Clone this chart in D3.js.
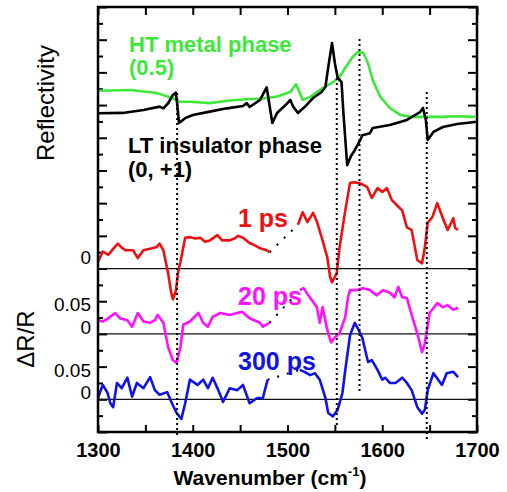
<!DOCTYPE html>
<meta charset="utf-8">
<style>
body { margin: 0; background: #fff; }
svg { display: block; }
.tick line { stroke: #000; stroke-width: 2px; }
.txt { font-family: "Liberation Sans", Arial, sans-serif; }
</style>
<body>
<div id="chart"></div>
<script src="https://d3js.org/d3.v7.min.js"></script>
<script>

// reflectivity traces (arb. units, same vertical axis as the stacked dR/R traces)
var htMetal = [[1300,0.472],[1334,0.473],[1362,0.4685],[1378,0.461],[1386,0.455],[1397,0.455],[1418,0.453],
  [1439,0.457],[1457,0.459],[1474,0.460],[1489,0.463],[1503,0.470],[1509,0.482],[1516,0.458],[1524,0.4625],
  [1537,0.476],[1548,0.485],[1555,0.493],[1561,0.507],[1569,0.524],[1574,0.531],[1580,0.530],[1585,0.514],
  [1590,0.488],[1598,0.4625],[1608,0.4455],[1619,0.435],[1629,0.432],[1643,0.432],[1661,0.432],[1679,0.433],[1698,0.432]];

var ltInsulator = [[1300,0.4375],[1326,0.438],[1348,0.4425],[1365,0.4476],[1369,0.445],[1374,0.4528],[1379,0.4654],
  [1382,0.469],[1383.5,0.453],[1385.5,0.4226],[1392,0.430],[1400,0.4349],[1418,0.440],[1436,0.445],[1453,0.4486],
  [1457,0.453],[1460,0.447],[1471,0.4578],[1478,0.4772],[1484,0.4226],[1489,0.4379],[1500,0.453],[1503,0.4578],
  [1506,0.4476],[1511,0.438],[1518,0.447],[1527,0.4608],[1536,0.470],[1540,0.4777],[1543,0.508],[1547,0.545],
  [1550,0.514],[1553,0.4914],[1557,0.4853],[1559,0.438],[1563,0.358],[1567,0.372],[1571,0.381],[1577,0.397],
  [1579,0.404],[1587,0.407],[1590,0.415],[1608,0.4196],[1626,0.4272],[1640,0.4394],[1643,0.4456],[1646,0.4272],
  [1648,0.3966],[1654,0.4089],[1664,0.4165],[1679,0.4211],[1698,0.4242]];

// dR/R traces, each measured in two windows (gap bridged by a dotted line)
var ps1Low = [[1300,0.010],[1305,0.026],[1311,0.021],[1316,0.030],[1321,0.038],[1325,0.032],[1329,0.028],[1337,0.028],
  [1342,0.016],[1348,0.028],[1357,0.031],[1362,0.033],[1365,0.038],[1369,0.028],[1374,-0.007],[1377,-0.035],
  [1379,-0.047],[1382,-0.035],[1385,-0.002],[1387,0.010],[1392,0.047],[1397,0.048],[1403,0.046],[1408,0.047],
  [1413,0.041],[1418,0.043],[1426,0.051],[1431,0.043],[1439,0.043],[1444,0.046],[1448,0.050],[1453,0.047],
  [1460,0.039],[1466,0.035],[1471,0.031],[1478,0.028],[1481,0.025]];
var ps1High = [[1511,0.067],[1516,0.086],[1521,0.071],[1527,0.085],[1531,0.072],[1537,0.043],[1542,0.017],
  [1545,-0.013],[1547,-0.021],[1552,-0.007],[1555,0.033],[1561,0.089],[1566,0.131],[1571,0.132],[1577,0.130],
  [1584,0.125],[1589,0.108],[1595,0.123],[1600,0.117],[1605,0.123],[1610,0.105],[1616,0.096],[1621,0.089],
  [1626,0.063],[1631,0.059],[1637,0.013],[1642,0.008],[1645,0.033],[1648,0.070],[1653,0.079],[1658,0.100],
  [1664,0.077],[1669,0.059],[1675,0.077],[1677,0.062],[1680,0.059]];

var ps20Low = [[1300,0.021],[1305,0.019],[1310,0.023],[1318,0.032],[1323,0.024],[1331,0.021],[1336,0.011],
  [1342,0.032],[1348,0.019],[1355,0.017],[1360,0.021],[1363,0.029],[1369,0.017],[1374,-0.020],[1379,-0.040],
  [1383,-0.0445],[1387,-0.020],[1390,0.014],[1397,0.019],[1406,0.032],[1411,0.017],[1416,0.011],[1421,0.026],
  [1429,0.032],[1439,0.029],[1452,0.034],[1460,0.024],[1471,0.017],[1474,0.011],[1481,0.017]];
var ps20High = [[1513,0.067],[1517,0.070],[1522,0.059],[1527,0.049],[1531,0.041],[1534,0.017],[1537,0.041],
  [1542,0.006],[1546,-0.013],[1550,-0.005],[1555,0.001],[1561,0.026],[1564,0.057],[1566,0.067],[1573,0.067],
  [1580,0.070],[1587,0.067],[1594,0.059],[1601,0.067],[1608,0.063],[1613,0.056],[1617,0.072],[1621,0.056],
  [1626,0.055],[1631,0.029],[1637,0.001],[1642,-0.028],[1645,-0.014],[1650,0.032],[1658,0.047],[1664,0.041],
  [1669,0.044],[1675,0.037],[1680,0.040]];

var ps300Low = [[1300,0.002],[1305,0.022],[1310,0.010],[1313,-0.006],[1316,-0.012],[1320,0.025],[1325,0.017],
  [1331,0.033],[1336,0.004],[1341,0.025],[1348,0.017],[1355,0.034],[1360,0.014],[1365,0.007],[1373,0.011],
  [1378,-0.006],[1383,-0.021],[1388,-0.030],[1392,-0.006],[1397,0.030],[1405,0.022],[1411,0.030],[1416,0.017],
  [1421,0.033],[1427,0.014],[1432,-0.004],[1439,0.017],[1447,0.014],[1453,0.022],[1460,-0.006],[1468,0.002],
  [1474,0.002],[1479,0.030]];
var ps300High = [[1513,0.045],[1518,0.042],[1524,0.037],[1529,0.040],[1534,0.030],[1540,0.002],[1543,-0.021],
  [1548,-0.026],[1553,-0.016],[1558,0.010],[1561,0.045],[1566,0.098],[1571,0.117],[1574,0.109],[1579,0.094],
  [1582,0.075],[1585,0.057],[1589,0.060],[1595,0.045],[1600,0.030],[1603,0.033],[1608,0.025],[1614,0.025],
  [1621,0.033],[1626,0.025],[1631,0.014],[1637,-0.012],[1642,-0.022],[1645,-0.016],[1648,0.014],[1654,0.040],
  [1659,0.030],[1663,0.022],[1668,0.040],[1675,0.042],[1680,0.034]];

// vertical offsets of the stacked dR/R traces
var delays = ["1 ps", "20 ps", "300 ps"];
var offsets = [0.2, 0.1, 0];

// dotted guide lines: wavenumber, top and bottom of each line
var guideWn = [1383.5, 1552, 1576, 1647];
var guideTop = [0.4685, 0.4914, 0.551, 0.470];
var guideBottom = [-0.059, -0.043, 0.0097, -0.063];

var xTicksMajor = [1300, 1400, 1500, 1600, 1700];
var yLabels = ["0", "0.05", "0", "0.05", "0"];
var yLabelValues = [0.2, 0.15, 0.1, 0.05, 0];

var margin = {top: 7, right: 30, bottom: 60, left: 98},
    width = 507 - margin.left - margin.right,
    height = 492 - margin.top - margin.bottom;

var green = "#3ee83a", red = "#ee1111", magenta = "#ff10ff", blue = "#1212e6";

var svg = d3.select("#chart").append("svg")
    .attr("width", 507)
    .attr("height", 492)
  .append("g")
    .attr("transform", "translate(" + margin.left + "," + margin.top + ")");

var x = d3.scaleLinear().domain([1300, 1700]).range([0, width]);
var y = d3.scaleLinear().domain([-0.05, 0.6]).range([height, 0]);

var xTicks = d3.range(1300, 1701, 50);
var yMajor = d3.range(0, 14).map(function(i) { return -0.05 + i * 0.05; });
var yMinor = d3.range(0, 13).map(function(i) { return -0.025 + i * 0.05; });

// ticks
svg.append("g")
    .attr("transform", "translate(0," + height + ")")
    .attr("class", "x axis")
    .call(d3.axisBottom(x).tickValues(xTicks).tickSizeInner(-7).tickSizeOuter(0).tickPadding(11)
      .tickFormat(function(d) { return xTicksMajor.indexOf(d) >= 0 ? d : ""; }))
    .call(function(g) {
      g.select(".domain").remove();
      g.selectAll("text").attr("class", "txt").style("font-size", "20px").style("font-weight", "bold").attr("fill", "#000");
    });

svg.append("g")
    .call(d3.axisTop(x).tickValues(xTicks).tickSizeInner(-8).tickSizeOuter(0).tickFormat(""))
    .call(function(g) { g.select(".domain").remove(); });

[[yMajor, 9], [yMinor, 5]].forEach(function(t) {
  svg.append("g")
      .call(d3.axisLeft(y).tickValues(t[0]).tickSizeInner(-t[1]).tickSizeOuter(0).tickFormat(""))
      .call(function(g) { g.select(".domain").remove(); });
  svg.append("g")
      .attr("transform", "translate(" + width + ",0)")
      .call(d3.axisRight(y).tickValues(t[0]).tickSizeInner(-t[1]).tickSizeOuter(0).tickFormat(""))
      .call(function(g) { g.select(".domain").remove(); });
});

// zero lines of the dR/R traces
svg.selectAll(".zero")
    .data(offsets)
  .enter().append("line")
    .attr("class", "zero")
    .attr("x1", 0)
    .attr("x2", width + 1)
    .attr("y1", function(d) { return y(d); })
    .attr("y2", function(d) { return y(d); })
    .attr("stroke", "#111")
    .attr("stroke-width", 1.2);

var line = function(off) {
  return d3.line()
    .x(function(d) { return x(d[0]); })
    .y(function(d) { return y(d[1] + off); });
};

function trace(data, off, color) {
  svg.append("path")
      .datum(data)
      .attr("fill", "none")
      .attr("stroke", color)
      .attr("stroke-width", 2.6)
      .attr("stroke-linejoin", "round")
      .attr("d", line(off));
}

trace(htMetal, 0, green);
trace(ltInsulator, 0, "#000");

var series = [[ps1Low, ps1High, red], [ps20Low, ps20High, magenta], [ps300Low, ps300High, blue]];
series.forEach(function(s, i) {
  var a = s[0][s[0].length - 1], b = s[1][0];
  svg.append("path")
      .datum([a, b])
      .attr("fill", "none")
      .attr("stroke", "#000")
      .attr("stroke-width", 2)
      .attr("stroke-dasharray", "2,8")
      .attr("d", line(offsets[i]));
  trace(s[0], offsets[i], s[2]);
  trace(s[1], offsets[i], s[2]);
});

// dotted guides
svg.selectAll(".guide")
    .data(guideWn)
  .enter().append("line")
    .attr("class", "guide")
    .attr("x1", function(d) { return x(d); })
    .attr("x2", function(d) { return x(d); })
    .attr("y1", function(d, i) { return y(guideTop[i]); })
    .attr("y2", function(d, i) { return y(guideBottom[i]); })
    .attr("stroke", "#000")
    .attr("stroke-width", 2)
    .attr("stroke-dasharray", "2,3");

// frame
svg.append("rect")
    .attr("width", width)
    .attr("height", height)
    .attr("fill", "none")
    .attr("stroke", "#000")
    .attr("stroke-width", 2.5);

// y labels (squeezed apart as in the original)
var labelShift = [-5, 10, 0, 10, 0];
svg.selectAll(".ylab")
    .data(yLabels)
  .enter().append("text")
    .attr("class", "txt")
    .attr("x", -7)
    .attr("y", function(d, i) { return y(yLabelValues[i]) + labelShift[i]; })
    .attr("text-anchor", "end")
    .style("font-size", "19px")
    .text(function(d) { return d; });

svg.append("text")
    .attr("class", "txt")
    .attr("transform", "translate(-44,96) rotate(-90)")
    .attr("text-anchor", "middle")
    .style("font-size", "24px")
    .text("Reflectivity");

svg.append("text")
    .attr("class", "txt")
    .attr("transform", "translate(-64,332) rotate(-90)")
    .attr("text-anchor", "middle")
    .style("font-size", "24px")
    .text("\u0394R/R");

var title = svg.append("text")
    .attr("class", "txt")
    .attr("x", 172)
    .attr("y", 478)
    .attr("text-anchor", "middle")
    .style("font-size", "21px")
    .style("font-weight", "bold")
    .text("Wavenumber (cm");
title.append("tspan").attr("dy", -9).style("font-size", "13px").text("-1");
title.append("tspan").attr("dy", 9).text(")");

// annotations
function note(t, xx, yy, color, size) {
  svg.append("text")
      .attr("class", "txt")
      .attr("x", xx)
      .attr("y", yy)
      .attr("fill", color)
      .style("font-size", size + "px")
      .style("font-weight", "bold")
      .text(t);
}
note("HT metal phase", 31, 45, green, 22);
note("(0.5)", 31, 68, green, 22);
note("LT insulator phase", 30, 146, "#000", 22);
note("(0, +1)", 30, 170, "#000", 22);
note(delays[0], 140, 220, red, 25);
note(delays[1], 140, 298, magenta, 25);
note(delays[2], 140, 363, blue, 25);

</script>
